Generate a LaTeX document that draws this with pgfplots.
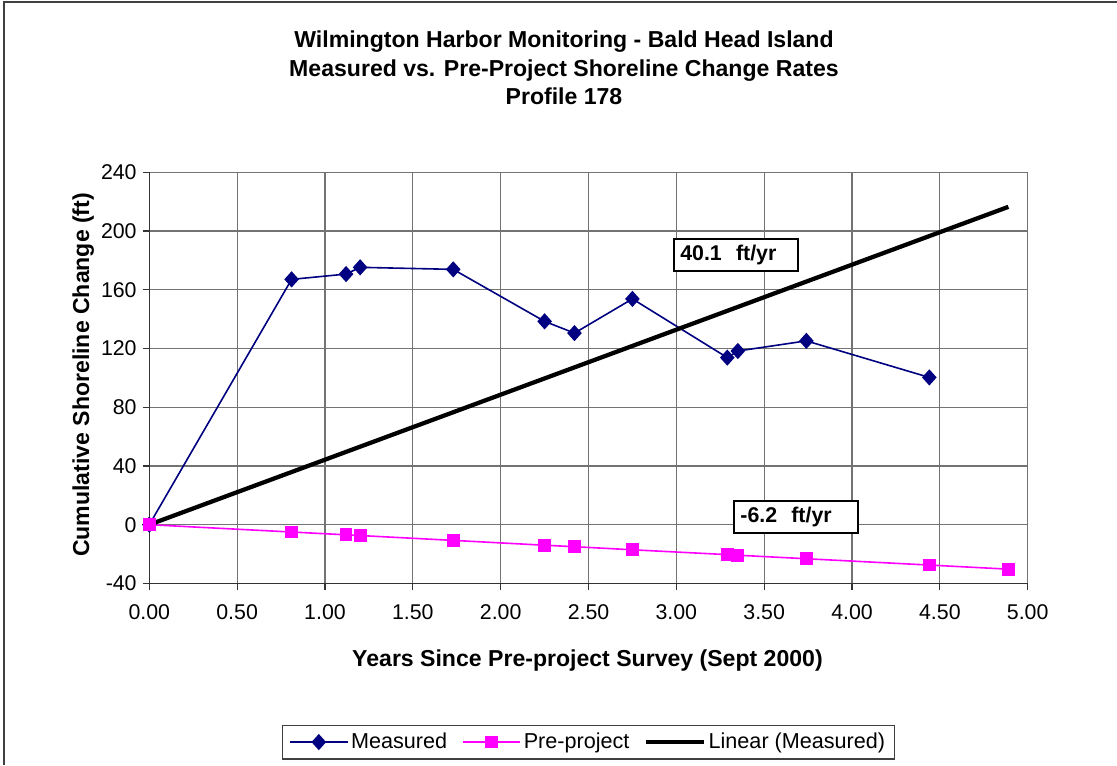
\documentclass[border=0pt]{standalone}
\usepackage{fontspec}
\setmainfont{Liberation Sans}
\usepackage{pgfplots}
\pgfplotsset{compat=1.18}
\definecolor{navyblue}{RGB}{0,0,128}
\definecolor{magentapp}{RGB}{255,0,255}
\begin{document}
\begin{tikzpicture}[x=0.75pt,y=0.75pt]
\path[use as bounding box] (0,0) rectangle (1117,765);
\draw[black!75, line width=1.4pt] (4,0) -- (4,763) -- (1117,763);
\node[anchor=base, font=\fontsize{17.3}{20}\selectfont\bfseries] at (564,717) {Wilmington Harbor Monitoring - Bald Head Island};
\node[anchor=base, font=\fontsize{17.3}{20}\selectfont\bfseries] at (564,688) {Measured vs. Pre-Project Shoreline Change Rates};
\node[anchor=base, font=\fontsize{17.3}{20}\selectfont\bfseries] at (564,660) {Profile 178};
\node[anchor=base, font=\fontsize{17.3}{20}\selectfont\bfseries] at (587.5,99) {Years Since Pre-project Survey (Sept 2000)};
\node[anchor=base, rotate=90, font=\fontsize{17.3}{20}\selectfont\bfseries] at (89,390) {Cumulative Shoreline Change (ft)};
\begin{axis}[
  at={(111.98pt,136.2pt)}, anchor=south west,
  scale only axis, width=658.8pt, height=308.3pt,
  xmin=0, xmax=5, ymin=-40, ymax=240,
  axis lines=left, axis line style={-, black!80, line width=0.9pt},
  xtick={0,0.5,...,5},
  xticklabels={0.00,0.50,1.00,1.50,2.00,2.50,3.00,3.50,4.00,4.50,5.00},
  ytick={-40,0,40,80,120,160,200,240},
  yticklabels={-40,0,40,80,120,160,200,240},
  tick align=outside, major tick length=5pt,
  tick style={black!80, line width=0.9pt},
  ticklabel style={font=\fontsize{16}{19}\selectfont},
  xticklabel style={yshift=-7pt},
  yticklabel style={xshift=-1pt},
  grid=major, major grid style={black!55, line width=0.9pt},
  clip=false,
  legend columns=3,
  legend style={at={(0.5,-0.386)}, anchor=center, draw=black!75, line width=0.9pt,
    font=\fontsize{16.2}{19}\selectfont, inner xsep=5pt, inner ysep=4pt,
    /tikz/every even column/.append style={column sep=9pt}},
  legend image code/.code={\draw[mark repeat=2,mark phase=2] plot coordinates {(0cm,0cm) (0.76cm,0cm) (1.52cm,0cm)};},
]
\addplot[navyblue, line width=1.2pt, mark=diamond*, mark size=5.2pt, mark options={solid, fill=navyblue, xscale=1.2}] coordinates {
(0,0) (0.81,167.1) (1.12,170.7) (1.20,175.3) (1.73,173.9) (2.25,138.5) (2.42,130.5) (2.75,153.8) (3.29,113.8) (3.35,118.3) (3.74,125.2) (4.44,100.3)
};
\addlegendentry{Measured}
\addplot[magentapp, line width=1.2pt, mark=square*, mark size=4.2pt, mark options={solid, fill=magentapp}] coordinates {
(0,0) (0.81,-5.0) (1.12,-6.9) (1.20,-7.4) (1.73,-10.7) (2.25,-14.0) (2.42,-15.0) (2.75,-17.1) (3.29,-20.4) (3.35,-20.8) (3.74,-23.2) (4.44,-27.5) (4.89,-30.3)
};
\addlegendentry{Pre-project}
\addplot[black, line width=3.2pt, no marks] coordinates {(0,0) (4.89,216.5)};
\addlegendentry{Linear (Measured)}
\node[draw=black, fill=white, line width=1.5pt, anchor=west, inner xsep=5pt, text width=83.5pt, align=left, minimum height=24.2pt, font=\fontsize{16}{19}\selectfont\bfseries] at (axis cs:2.979,183.8) {40.1\ \ ft/yr};
\node[draw=black, fill=white, line width=1.5pt, anchor=west, inner xsep=5pt, text width=83.2pt, align=left, minimum height=24pt, font=\fontsize{16}{19}\selectfont\bfseries] at (axis cs:3.321,5.4) {-6.2\ \ ft/yr};
\end{axis}
\end{tikzpicture}
\end{document}
